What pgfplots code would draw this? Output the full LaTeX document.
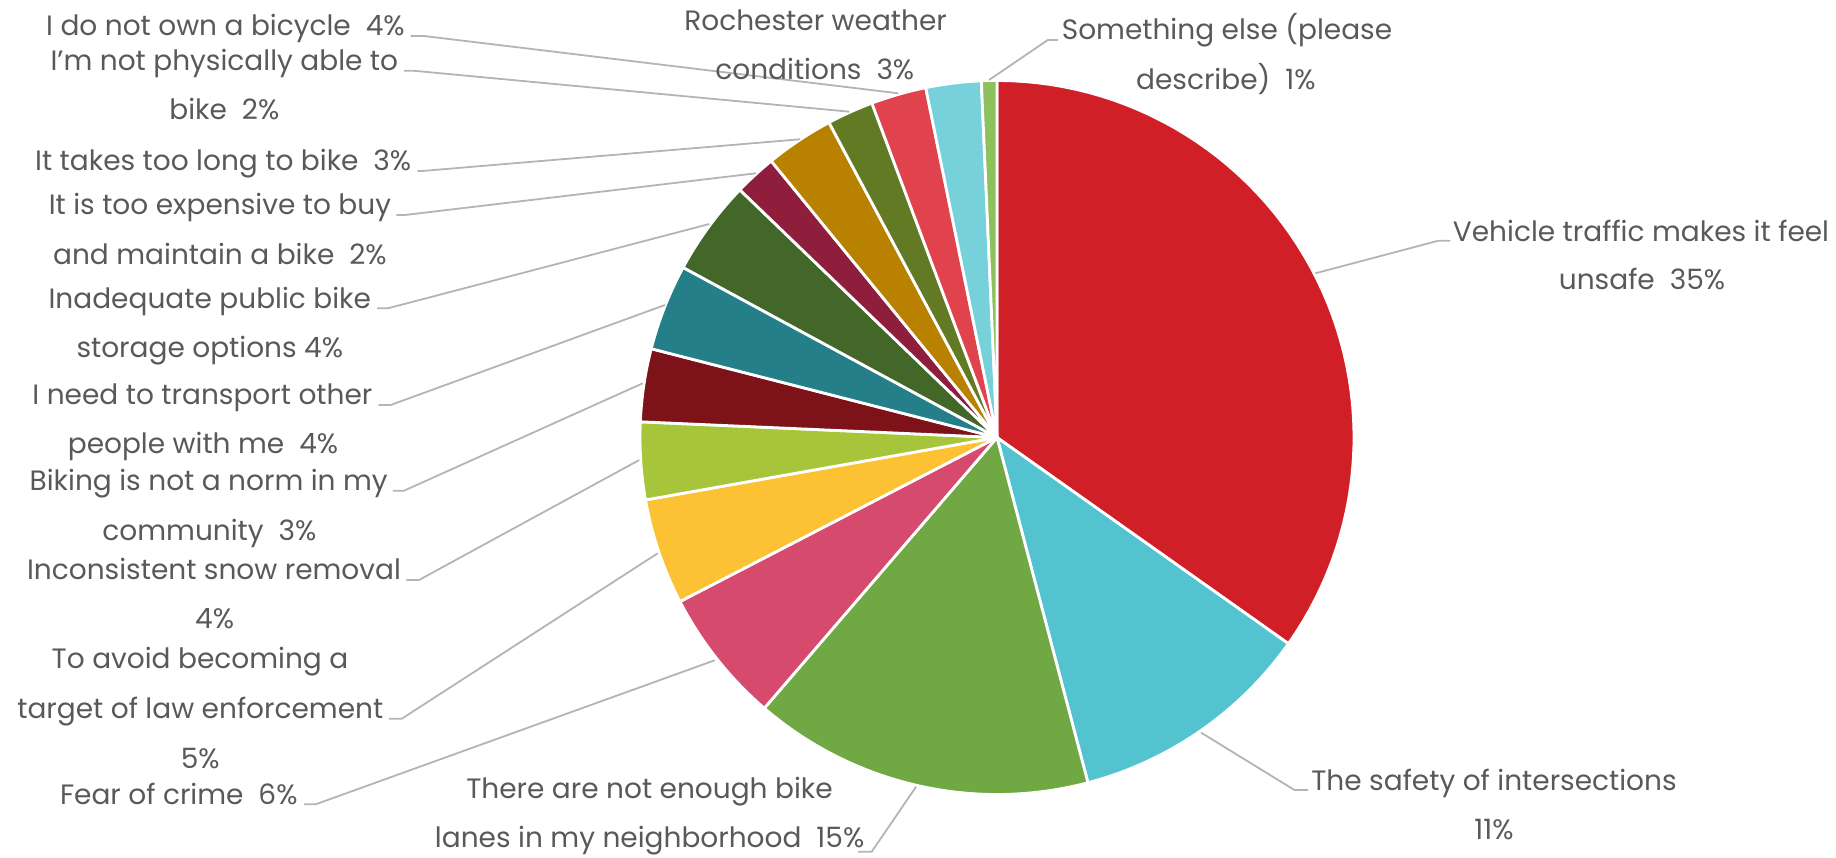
\documentclass[border=0pt]{standalone}
\usepackage{pgfplots}
\pgfplotsset{compat=1.18}
\usepackage{fontspec}
\setmainfont{Poppins}
\definecolor{txt}{RGB}{89,89,89}
\definecolor{lead}{RGB}{178,180,184}
\definecolor{c1}{RGB}{208,31,39}
\definecolor{c2}{RGB}{83,196,207}
\definecolor{c3}{RGB}{112,168,67}
\definecolor{c4}{RGB}{214,74,110}
\definecolor{c5}{RGB}{252,194,52}
\definecolor{c6}{RGB}{166,197,58}
\definecolor{c7}{RGB}{125,18,24}
\definecolor{c8}{RGB}{36,127,136}
\definecolor{c9}{RGB}{67,102,41}
\definecolor{c10}{RGB}{142,30,60}
\definecolor{c11}{RGB}{184,130,0}
\definecolor{c12}{RGB}{98,122,36}
\definecolor{c13}{RGB}{224,67,77}
\definecolor{c14}{RGB}{118,209,218}
\definecolor{c15}{RGB}{140,193,92}
% slice: colour, cumulative percent from, cumulative percent to
\newcommand{\slice}[3]{%
  \addplot[fill=#1, draw=white, line width=1.4pt, line join=round,
    domain={90-3.6*#3}:{90-3.6*#2}, samples=60, variable=\t]
    ({997+357*cos(\t)},{419.5+357*sin(\t)}) -- (axis cs:997,419.5) -- cycle;}
\newcommand{\lbl}[3]{\node[anchor=base, text=txt, font=\fontsize{14}{16}\selectfont, inner sep=0pt] at (axis cs:#1,#2) {#3};}
\begin{document}
\begin{tikzpicture}
\begin{axis}[at={(0,0)}, anchor=south west,
  xmin=0, xmax=1836, ymin=0, ymax=857,
  width=918pt, height=428.5pt, scale only axis, hide axis, clip=false]
% cumulative shares (percent) clockwise from 12 o'clock
\slice{c1}{0}{34.8}
\slice{c2}{34.8}{45.9}
\slice{c3}{45.9}{61.3}
\slice{c4}{61.3}{67.4}
\slice{c5}{67.4}{72.2}
\slice{c6}{72.2}{75.7}
\slice{c7}{75.7}{79.0}
\slice{c8}{79.0}{82.9}
\slice{c9}{82.9}{87.2}
\slice{c10}{87.2}{89.1}
\slice{c11}{89.1}{92.2}
\slice{c12}{92.2}{94.3}
\slice{c13}{94.3}{96.8}
\slice{c14}{96.8}{99.3}
\slice{c15}{99.3}{100}
% leader lines
\addplot[lead, line width=0.9pt, sharp plot, no marks] coordinates {(410.7,821) (424,821) (898.3,763.7)};
\addplot[lead, line width=0.9pt, sharp plot, no marks] coordinates {(404,786.3) (413,786.3) (849.3,745.3)};
\addplot[lead, line width=0.9pt, sharp plot, no marks] coordinates {(417.4,686) (422,686) (800,717.7)};
\addplot[lead, line width=0.9pt, sharp plot, no marks] coordinates {(396.4,642) (405,642) (756,683.7)};
\addplot[lead, line width=0.9pt, sharp plot, no marks] coordinates {(377,548.7) (388,548.7) (709.3,633)};
\addplot[lead, line width=0.9pt, sharp plot, no marks] coordinates {(378.6,452) (390.6,452) (665,552)};
\addplot[lead, line width=0.9pt, sharp plot, no marks] coordinates {(392.9,366.3) (404,366.3) (642.7,473.7)};
\addplot[lead, line width=0.9pt, sharp plot, no marks] coordinates {(406.4,277) (419,277) (639.3,397)};
\addplot[lead, line width=0.9pt, sharp plot, no marks] coordinates {(389,138.3) (401.8,138.3) (657.7,303.7)};
\addplot[lead, line width=0.9pt, sharp plot, no marks] coordinates {(304.2,52.7) (315.7,52.7) (714.7,196.7)};
\addplot[lead, line width=0.9pt, sharp plot, no marks] coordinates {(858,5.3) (871.7,5.3) (916.1,70.3)};
\addplot[lead, line width=0.9pt, sharp plot, no marks] coordinates {(1058,817) (1047.8,817) (989,777)};
\addplot[lead, line width=0.9pt, sharp plot, no marks] coordinates {(1450.4,616.3) (1438.5,616.3) (1315.4,583.7)};
\addplot[lead, line width=0.9pt, sharp plot, no marks] coordinates {(1308,67) (1294.4,67) (1201.2,124.3)};
% labels
\lbl{225.4}{821}{I do not own a bicycle\ \ 4\%}
\lbl{224.3}{786.3}{I’m not physically able to}
\lbl{224.3}{737.7}{bike\ \ 2\%}
\lbl{223.2}{686.3}{It takes too long to bike\ \ 3\%}
\lbl{219.9}{642}{It is too expensive to buy}
\lbl{219.9}{592}{and maintain a bike\ \ 2\%}
\lbl{209.8}{548.7}{Inadequate public bike}
\lbl{209.8}{499.7}{storage options 4\%}
\lbl{202.4}{452}{I need to transport other}
\lbl{203}{403.7}{people with me\ \ 4\%}
\lbl{208.7}{366.3}{Biking is not a norm in my}
\lbl{209.4}{316.3}{community\ \ 3\%}
\lbl{214}{277.3}{Inconsistent snow removal}
\lbl{214.6}{228.3}{4\%}
\lbl{200}{188.3}{To avoid becoming a}
\lbl{200.3}{138.3}{target of law enforcement}
\lbl{200.3}{89}{5\%}
\lbl{178.8}{52.7}{Fear of crime\ \ 6\%}
\lbl{649.5}{58.3}{There are not enough bike}
\lbl{649.6}{9.3}{lanes in my neighborhood\ \ 15\%}
\lbl{815.6}{826.3}{Rochester weather}
\lbl{814.8}{777}{conditions\ \ 3\%}
\lbl{1227}{817}{Something else (please}
\lbl{1225.8}{767.7}{describe)\ \ 1\%}
\lbl{1641}{615.3}{Vehicle traffic makes it feel}
\lbl{1642}{567}{unsafe\ \ 35\%}
\lbl{1494}{67}{The safety of intersections}
\lbl{1494}{17.7}{11\%}
\end{axis}
\pgfresetboundingbox
\path[use as bounding box] (0,0) rectangle (918pt,428.5pt);
\end{tikzpicture}
\end{document}
